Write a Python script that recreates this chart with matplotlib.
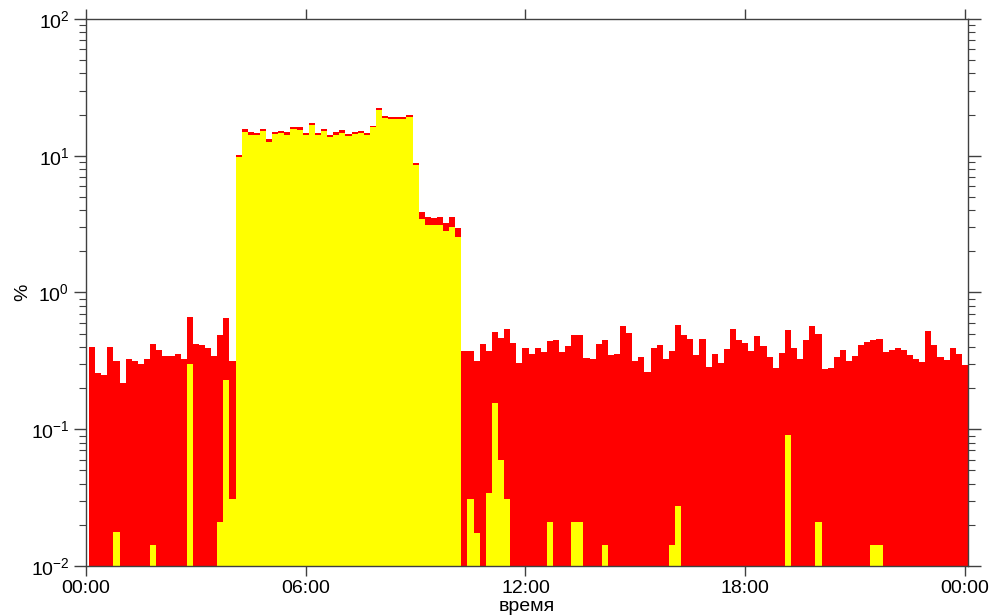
import matplotlib
matplotlib.use('Agg')
import matplotlib.pyplot as plt
import numpy as np

plt.rcParams['font.family'] = ['Liberation Sans', 'DejaVu Sans']
plt.rcParams['mathtext.fontset'] = 'custom'
plt.rcParams['mathtext.rm'] = 'Liberation Sans'
plt.rcParams['mathtext.it'] = 'Liberation Sans'
plt.rcParams['mathtext.bf'] = 'Liberation Sans'

# 10-minute intervals over a day, values in %
total_pct = [
    0.40, 0.258, 0.248, 0.40, 0.314, 0.216, 0.323, 0.316, 0.30, 0.323,
    0.42, 0.38, 0.342, 0.342, 0.353, 0.323, 0.66, 0.418, 0.41, 0.395,
    0.342, 0.49, 0.654, 0.314, 10.2, 15.6, 14.8, 14.6, 15.7, 13.2,
    15.0, 15.1, 14.8, 16.2, 16.1, 14.6, 17.3, 14.6, 15.6, 14.1,
    14.8, 15.3, 14.4, 15.0, 15.1, 14.6, 16.6, 22.3, 19.5, 19.1,
    19.3, 19.3, 19.8, 8.85, 3.87, 3.54, 3.5, 3.58, 3.24, 3.54,
    2.96, 0.373, 0.373, 0.316, 0.42, 0.373, 0.517, 0.46, 0.543, 0.427,
    0.305, 0.389, 0.357, 0.393, 0.365, 0.442, 0.447, 0.365, 0.404, 0.488,
    0.488, 0.33, 0.327, 0.416, 0.452, 0.346, 0.357, 0.565, 0.508, 0.316,
    0.338, 0.260, 0.393, 0.41, 0.323, 0.37, 0.581, 0.49, 0.457, 0.346,
    0.457, 0.286, 0.353, 0.302, 0.382, 0.537, 0.447, 0.427, 0.372, 0.483,
    0.404, 0.336, 0.278, 0.361, 0.535, 0.395, 0.323, 0.447, 0.565, 0.50,
    0.275, 0.281, 0.334, 0.38, 0.314, 0.34, 0.409, 0.432, 0.452, 0.457,
    0.365, 0.376, 0.389, 0.376, 0.348, 0.323, 0.311, 0.52, 0.41, 0.336,
    0.32, 0.393, 0.357, 0.292,
]

# yellow series: interval index -> value
part_idx = [4, 10, 16, 21, 22, 23,
            24, 25, 26, 27, 28, 29, 30, 31, 32, 33, 34, 35, 36, 37, 38, 39,
            40, 41, 42, 43, 44, 45, 46, 47, 48, 49, 50, 51, 52, 53, 54, 55,
            56, 57, 58, 59, 60,
            62, 63, 65, 66, 67, 68, 75, 79, 80, 84, 95, 96, 114, 119, 128, 129]
part_pct = [0.0166, 0.0133, 0.30, 0.020, 0.229, 0.030,
            9.85, 15.0, 14.3, 14.1, 15.1, 12.7, 14.5, 14.6, 14.2, 15.7, 15.5,
            14.1, 16.8, 14.1, 15.1, 13.6,
            14.3, 14.7, 13.9, 14.5, 14.6, 14.1, 16.1, 21.7, 18.9, 18.5, 18.6,
            18.6, 19.2, 8.6, 3.42, 3.09,
            3.13, 3.13, 2.8, 3.0, 2.53,
            0.030, 0.0165, 0.033, 0.155, 0.059, 0.030, 0.020, 0.020, 0.020,
            0.0132, 0.0132, 0.0265, 0.0898, 0.020, 0.0132, 0.0132]

tick_hours = [0, 6, 12, 18, 24]
tick_labels = ['00:00', '06:00', '12:00', '18:00', '00:00']

step = 1 / 6  # hours
left_edges = np.arange(len(total_pct)) * step + step / 2
part_edges = np.array(part_idx) * step + step / 2

fig = plt.figure(figsize=(9.9, 6.16), dpi=100)
ax = fig.add_axes([86 / 990, 1 - 566 / 616, (968 - 86) / 990, (566 - 19) / 616])

ax.bar(left_edges, total_pct, width=step, align='edge', color='#ff0000',
       linewidth=0, bottom=1e-3)
ax.bar(part_edges, part_pct, width=step, align='edge', color='#ffff00',
       linewidth=0, bottom=1e-3)

ax.set_yscale('log')
ax.set_ylim(1e-2, 1e2)
ax.set_xlim(0, 24 + step / 2)
ax.set_xticks(tick_hours)
ax.set_xticklabels(tick_labels)
ax.xaxis.set_minor_locator(matplotlib.ticker.NullLocator())

for s in ax.spines.values():
    s.set_color('#404040')
    s.set_linewidth(1)

ax.tick_params(which='both', direction='out', top=True, right=True,
               colors='#404040', labelcolor='black', labelsize=14)
ax.tick_params(axis='y', which='major', length=9, width=1, pad=3)
ax.tick_params(axis='x', which='major', length=7, width=1, pad=3)
ax.tick_params(which='minor', length=5, width=0.8)

ax.set_xlabel('время', fontsize=14)
ax.set_ylabel('%', fontsize=14)
ax.xaxis.set_label_coords(0.5, -0.058)
ax.yaxis.set_label_coords(-0.062, 0.5)

fig.savefig('out.png', dpi=100)
